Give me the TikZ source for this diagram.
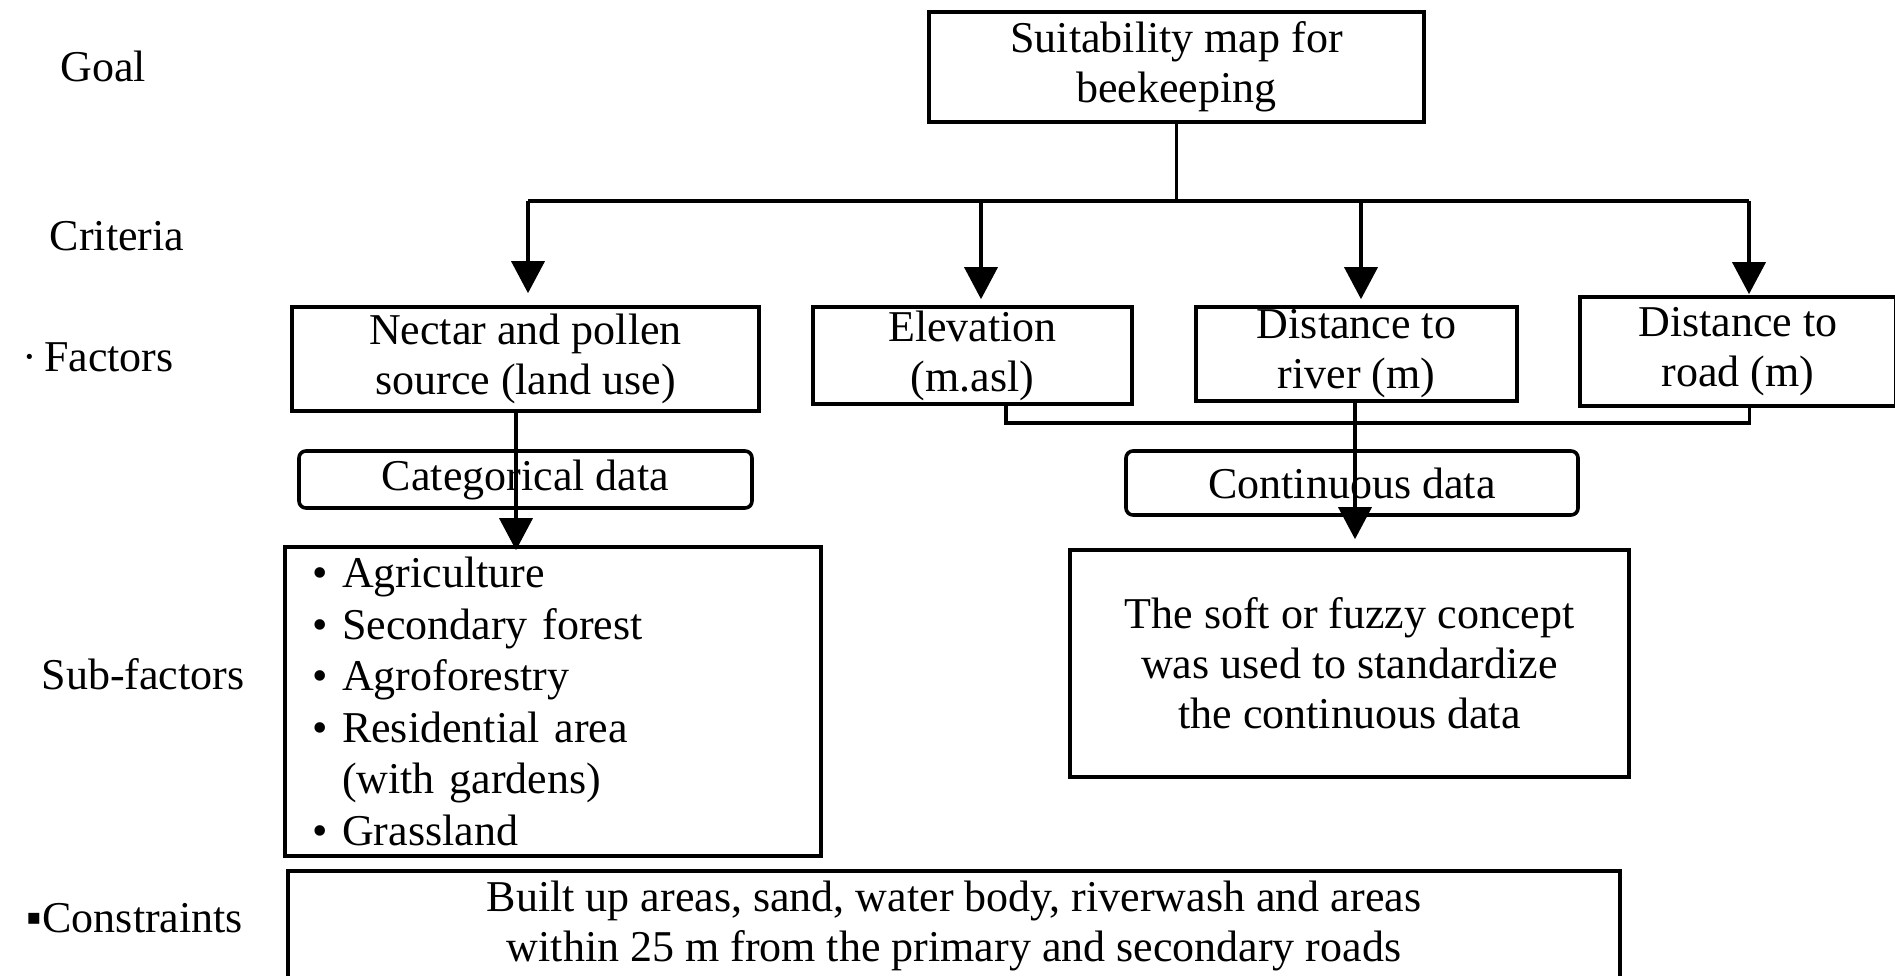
\documentclass[tikz,border=0pt]{standalone}
\usepackage{fontspec}
\setmainfont{Liberation Serif}
\usetikzlibrary{arrows.meta}
\begin{document}
\begin{tikzpicture}[x=1pt,y=-1pt,
  font=\fontsize{44}{50}\selectfont,
  box/.style={draw, line width=3.6pt, align=center, inner sep=0pt},
  rbox/.style={draw, line width=3.6pt, align=center, inner sep=0pt, rounded corners=7pt},
  lbl/.style={inner sep=0pt},
  ln/.style={line width=3.6pt},
  arr/.style={line width=3.6pt, -{Triangle[width=33pt,length=32pt]}}]
\useasboundingbox (0,0) rectangle (1895,976);
% left labels
\node[lbl] (lgoal) at (103,66) {Goal};
\node[lbl] (lcrit) at (117,236) {Criteria};
\node[lbl] (lfact) at (98,357) {·\,Factors};
\node[lbl] (lsub) at (143,674) {Sub-factors};
\node[lbl] (lcons) at (135,918) {▪Constraints};
% boxes
\node[box, minimum width=495, minimum height=110] (goal) at (1176.5,67) {Suitability map for\\beekeeping};
\node[box, minimum width=467, minimum height=104] (nectar) at (525.5,359) {Nectar and pollen\\source (land use)};
\node[box, minimum width=319, minimum height=97] (elev) at (972.5,355.5) {Elevation\\(m.asl)};
\node[box, minimum width=321, minimum height=94] (river) at (1356.5,354) {Distance to\\river (m)};
\node[box, minimum width=316, minimum height=109] (road) at (1738,351.5) {Distance to\\road (m)};
\node[rbox, minimum width=453, minimum height=57] (cat) at (525.5,479.5) {Categorical data};
\node[rbox, minimum width=452, minimum height=64] (cont) at (1352,483) {Continuous data};
\node[box, minimum width=536, minimum height=309, text width=482, inner xsep=27pt, align=left,
  font=\fontsize{44}{51.5}\selectfont] (subf) at (553,701.5)
  {•\ Agriculture\\•\ Secondary forest\\•\ Agroforestry\\•\ Residential area\\\phantom{•\ }(with gardens)\\•\ Grassland};
\node[box, minimum width=559, minimum height=227] (fuzzy) at (1349.5,663.5) {The soft or fuzzy concept\\was used to standardize\\the continuous data};
\node[box, minimum width=1332, minimum height=110] (cons) at (954,926) {Built up areas, sand, water body, riverwash and areas\\within 25 m from the primary and secondary roads};
% top connectors
\coordinate (j1) at (528,201);
\coordinate (j2) at (981,201);
\coordinate (j3) at (1361,201);
\coordinate (j4) at (1749,201);
\draw[ln] (goal.south) -- (goal.south |- j1);
\draw[ln] (j1) -- (j4);
\draw[arr, shorten >=12pt] (j1) -- (j1 |- nectar.north);
\draw[arr, shorten >=6pt] (j2) -- (j2 |- elev.north);
\draw[arr, shorten >=6pt] (j3) -- (j3 |- river.north);
\draw[arr, shorten >=1pt] (j4) -- (j4 |- road.north);
% lower connectors
\coordinate (n1) at ([xshift=-9.5pt]nectar.south);
\draw[arr, shorten >=-5pt] (n1) -- (n1 |- subf.north);
\coordinate (e1) at ([xshift=33.5pt]elev.south);
\coordinate (r1) at ([xshift=11.5pt]road.south);
\coordinate (eb) at (0,423);
\draw[ln] (e1) -- (e1 |- eb) -- (r1 |- eb) -- (r1);
\coordinate (v1) at ([xshift=-1.5pt]river.south);
\draw[arr, shorten >=9pt] (v1) -- (v1 |- fuzzy.north);
\end{tikzpicture}
\end{document}
